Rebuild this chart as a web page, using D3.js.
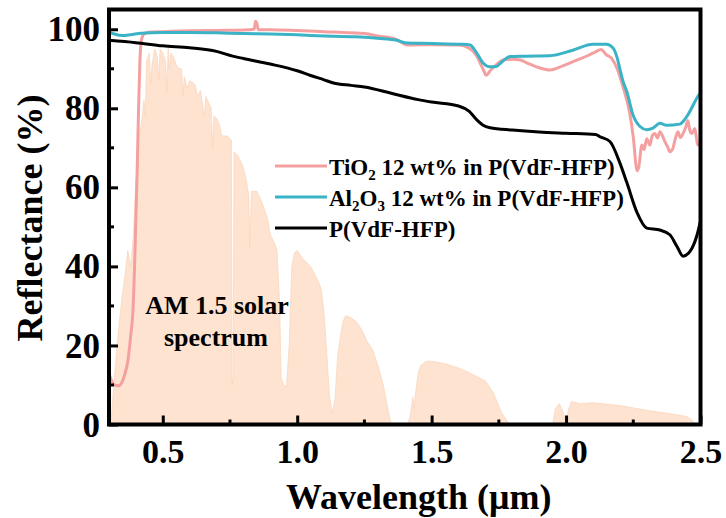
<!DOCTYPE html>
<html>
<head>
<meta charset="utf-8">
<title>Reflectance</title>
<script src="https://d3js.org/d3.v7.min.js"></script>
<style>
  body { margin: 0; background: #fff; }
  text { font-family: "Liberation Serif", "Times New Roman", serif; font-weight: bold; fill: #000; }
</style>
</head>
<body>
<div id="chart"></div>
<script>
// AM 1.5 solar spectrum (scaled), [wavelength um, value]
var solar = [
  [0.30,0],[0.31,3],[0.32,12],[0.33,20],[0.34,27],[0.35,33],[0.36,38],[0.37,44],[0.38,40],[0.39,47],
  [0.40,62],[0.405,58],[0.41,72],[0.42,76],[0.43,82],[0.435,78],[0.44,92],[0.45,94],[0.455,86],[0.46,91],[0.47,95],
  [0.48,93],[0.485,87],[0.49,95],[0.50,94],[0.51,92],[0.515,84],[0.52,95.5],[0.525,90],[0.53,94],[0.54,93],[0.55,91],[0.56,90],
  [0.57,90],[0.575,83],[0.58,88],[0.59,85],[0.60,87],[0.62,86],[0.63,83],[0.64,84.5],[0.655,78],[0.66,83],[0.68,80],[0.685,70],[0.69,78],
  [0.70,77.5],[0.71,76],[0.72,73],[0.74,73],[0.755,72],[0.758,10],[0.762,12],[0.765,69],[0.78,68],[0.80,65],
  [0.81,62],[0.82,58],[0.823,45],[0.83,59],[0.85,59],[0.87,56],[0.89,52],[0.90,48],[0.915,46],[0.925,44],[0.935,30],
  [0.94,12],[0.95,10],[0.96,9.6],[0.97,20],[0.98,40],[0.99,43.5],[1.00,44],[1.02,42],[1.05,40],[1.08,36],
  [1.09,34],[1.10,28],[1.11,18],[1.12,7],[1.13,3],[1.14,6],[1.15,17],[1.16,22],[1.17,26],[1.18,27.5],
  [1.20,27],[1.22,26],[1.24,24],[1.26,21],[1.28,19],[1.30,15],[1.32,10],[1.34,3],[1.35,0],[1.41,0],
  [1.42,2],[1.43,7],[1.435,4],[1.44,8],[1.45,13],[1.46,15],[1.48,16],[1.50,16],[1.55,15.4],[1.60,14.3],
  [1.65,12.8],[1.70,11],[1.73,8],[1.76,3],[1.79,0],[1.95,0],[1.96,4],[1.975,5.3],[1.99,3],[2.00,0.5],
  [2.01,4],[2.02,5.8],[2.05,5.3],[2.10,5.5],[2.20,4.8],[2.30,3.6],[2.40,2.6],[2.45,2],[2.47,1],[2.48,0]
];

// TiO2 12 wt% in P(VdF-HFP)
var tio2 = [
  [0.30,13],[0.31,11],[0.32,10],[0.335,9.8],[0.35,11],[0.36,13],[0.37,16],[0.38,22],[0.39,30],[0.40,52],
  [0.405,65],[0.41,80],[0.415,92],[0.42,97],[0.43,98.8],[0.45,99.3],[0.50,99.4],[0.60,99.6],[0.70,99.7],[0.80,99.8],
  [0.84,100],[0.845,102],[0.85,101.5],[0.855,99.9],[0.90,99.9],[1.00,99.7],[1.10,99.4],[1.20,99.1],[1.25,98.9],[1.30,98.3],
  [1.37,97.4],[1.41,96.0],[1.50,96.1],[1.60,96.0],[1.64,95.2],[1.665,93.5],[1.69,90.1],[1.703,88.4],[1.72,89.7],[1.74,91],
  [1.766,92.2],[1.80,92.4],[1.83,92.2],[1.86,91.3],[1.89,90.5],[1.94,89.7],[1.99,90.8],[2.04,92.2],[2.08,93.3],[2.11,94.3],
  [2.13,94.9],[2.15,93.5],[2.17,92.6],[2.19,90],[2.21,85.8],[2.237,78.7],[2.25,72.7],[2.264,64.2],[2.27,65],[2.282,70.7],
  [2.29,69.5],[2.30,72.3],[2.312,70.7],[2.32,73],[2.33,73.6],[2.34,72.5],[2.349,74.1],[2.36,72.8],[2.368,71.5],[2.378,70.2],
  [2.386,69],[2.397,69.8],[2.405,72],[2.416,74.1],[2.425,72.6],[2.435,73.6],[2.445,75.2],[2.453,76.9],[2.46,74.5],[2.468,73.6],
  [2.479,74.9],[2.485,72.5],[2.49,70.7],[2.50,71.5]
];

// Al2O3 12 wt% in P(VdF-HFP)
var al2o3 = [
  [0.30,99.3],[0.32,98.8],[0.35,98.4],[0.38,98.6],[0.42,99.0],[0.50,99.2],[0.60,99.2],[0.70,99.1],[0.80,98.9],[0.90,98.8],
  [1.00,98.6],[1.10,98.3],[1.20,98.1],[1.25,98.0],[1.30,97.7],[1.37,97.2],[1.41,96.5],[1.50,96.4],[1.617,96.2],[1.643,96.0],
  [1.665,94.3],[1.692,91.4],[1.717,90.5],[1.74,90.6],[1.762,91.8],[1.792,93.1],[1.84,93.2],[1.94,93.3],[2.025,94.7],[2.10,96.2],
  [2.15,96.2],[2.174,95.3],[2.189,93],[2.20,90],[2.211,87],[2.226,84.2],[2.249,78.3],[2.275,75.4],[2.30,74.6],[2.323,75],
  [2.349,76.2],[2.375,75.7],[2.423,76],[2.45,78],[2.49,83],[2.50,84]
];

// P(VdF-HFP)
var pvdf = [
  [0.30,97.2],[0.40,96.6],[0.50,95.8],[0.60,95.3],[0.70,94.4],[0.76,93.2],[0.80,92.6],[0.90,91.2],[1.00,89.5],[1.05,88.3],
  [1.10,87.2],[1.135,86.4],[1.20,85.8],[1.25,85.4],[1.35,83.8],[1.45,82.2],[1.50,81.6],[1.60,80.6],[1.64,79.2],[1.665,77.3],
  [1.69,75.8],[1.717,75.1],[1.80,74.5],[1.90,74.0],[2.00,73.7],[2.11,73.4],[2.126,72.8],[2.163,71.6],[2.20,66.2],[2.226,61.2],
  [2.264,53.6],[2.30,49.7],[2.349,49.2],[2.386,48.0],[2.412,45.1],[2.435,42.6],[2.461,43.8],[2.486,47.7],[2.50,51.5]
];

var xTicks = [0.5, 1.0, 1.5, 2.0, 2.5];
var xMinor = [0.75, 1.25, 1.75, 2.25];
var yTicks = [0, 20, 40, 60, 80, 100];
var yMinor = [10, 30, 50, 70, 90];
var seriesNames = ["TiO2 12 wt% in P(VdF-HFP)", "Al2O3 12 wt% in P(VdF-HFP)", "P(VdF-HFP)"];

var width = 726, height = 518;
var pL = 109, pR = 700.5, pT = 9.5, pB = 424.5;

var svg = d3.select("#chart").append("svg")
    .attr("width", width)
    .attr("height", height);

var x = d3.scaleLinear().domain([0.3, 2.5]).range([pL, pR]);
var y = d3.scaleLinear().domain([0, 105]).range([pB, pT]);

svg.append("clipPath").attr("id", "clip")
  .append("rect").attr("x", pL).attr("y", pT).attr("width", pR - pL).attr("height", pB - pT);

var plot = svg.append("g").attr("clip-path", "url(#clip)");

// solar spectrum
plot.append("path")
    .datum(solar)
    .attr("d", d3.area().x(d => x(d[0])).y0(y(0)).y1(d => y(d[1])))
    .attr("fill", "#fde3d0")
    .attr("stroke", "#f9d4b8")
    .attr("stroke-width", 0.7);

var smooth = d3.line().x(d => x(d[0])).y(d => y(d[1])).curve(d3.curveMonotoneX);

plot.append("path").datum(tio2).attr("d", smooth)
    .attr("fill", "none").attr("stroke", "#f5a0a0").attr("stroke-width", 3);
plot.append("path").datum(al2o3).attr("d", smooth)
    .attr("fill", "none").attr("stroke", "#3ab3c6").attr("stroke-width", 3);
plot.append("path").datum(pvdf).attr("d", smooth)
    .attr("fill", "none").attr("stroke", "#000").attr("stroke-width", 3);

// frame
svg.append("rect")
    .attr("x", pL).attr("y", pT)
    .attr("width", pR - pL).attr("height", pB - pT)
    .attr("fill", "none").attr("stroke", "#000").attr("stroke-width", 4);

// ticks (inward)
var xAxis = d3.axisBottom(x).tickValues(xTicks).tickSize(-9).tickPadding(8)
    .tickFormat(d3.format(".1f"));
var gx = svg.append("g").attr("transform", "translate(0," + pB + ")").call(xAxis);
gx.select(".domain").remove();
gx.selectAll("line").attr("stroke-width", 3);
gx.selectAll("text").style("font-size", "34px").attr("dy", "0.9em");

svg.append("g").selectAll("line").data(xMinor).join("line")
    .attr("x1", d => x(d)).attr("x2", d => x(d))
    .attr("y1", pB).attr("y2", pB - 5)
    .attr("stroke", "#000").attr("stroke-width", 3);

var yAxis = d3.axisLeft(y).tickValues(yTicks).tickSize(-9).tickPadding(9);
var gy = svg.append("g").attr("transform", "translate(" + pL + ",0)").call(yAxis);
gy.select(".domain").remove();
gy.selectAll("line").attr("stroke-width", 3);
gy.selectAll("text").style("font-size", "35px").attr("dy", "0.33em");

svg.append("g").selectAll("line").data(yMinor).join("line")
    .attr("x1", pL).attr("x2", pL + 5)
    .attr("y1", d => y(d)).attr("y2", d => y(d))
    .attr("stroke", "#000").attr("stroke-width", 3);

// axis titles
svg.append("text")
    .attr("x", (pL + pR) / 2 + 14).attr("y", 509)
    .attr("text-anchor", "middle")
    .style("font-size", "36px")
    .text("Wavelength (\u03bcm)");

svg.append("text")
    .attr("transform", "translate(42,218) rotate(-90)")
    .attr("text-anchor", "middle")
    .style("font-size", "36px")
    .text("Reflectance (%)");

// legend
var legColors = ["#f5a0a0", "#3ab3c6", "#000"];
var legY = [175, 206, 237];
var leg = svg.append("g");
legY.forEach(function (ly, i) {
  leg.append("line")
      .attr("x1", 275).attr("x2", 327)
      .attr("y1", ly - 9).attr("y2", ly - 9)
      .attr("stroke", legColors[i]).attr("stroke-width", 3);
});
var t1 = leg.append("text").attr("x", 329).attr("y", legY[0]).style("font-size", "23px");
t1.append("tspan").text("TiO");
t1.append("tspan").attr("dy", 5).style("font-size", "15px").text("2");
t1.append("tspan").attr("dy", -5).text(" 12 wt% in P(VdF-HFP)");

var t2 = leg.append("text").attr("x", 329).attr("y", legY[1]).style("font-size", "23px");
t2.append("tspan").text("Al");
t2.append("tspan").attr("dy", 5).style("font-size", "15px").text("2");
t2.append("tspan").attr("dy", -5).text("O");
t2.append("tspan").attr("dy", 5).style("font-size", "15px").text("3");
t2.append("tspan").attr("dy", -5).text(" 12 wt% in P(VdF-HFP)");

leg.append("text").attr("x", 329).attr("y", legY[2]).style("font-size", "23px").text(seriesNames[2]);

// spectrum label
svg.append("text").attr("x", 217).attr("y", 314).attr("text-anchor", "middle")
    .style("font-size", "26px").text("AM 1.5 solar");
svg.append("text").attr("x", 216).attr("y", 346).attr("text-anchor", "middle")
    .style("font-size", "26px").text("spectrum");
</script>
</body>
</html>
